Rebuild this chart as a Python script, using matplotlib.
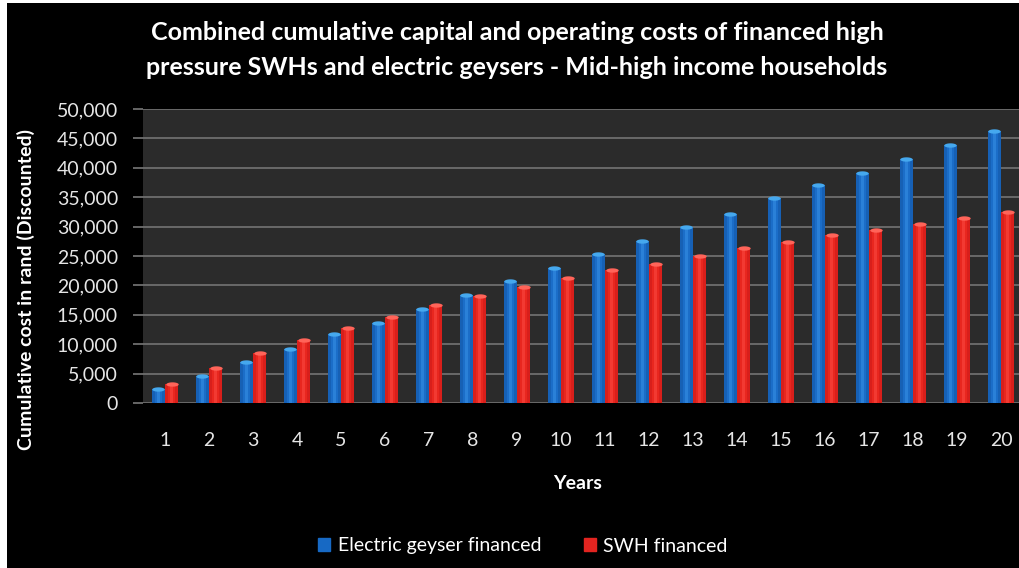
import numpy as np
import matplotlib.pyplot as plt
from matplotlib.patches import Rectangle

years = list(range(1, 21))
electric_geyser = [2300, 4600, 7000, 9150, 11650, 13650, 16000, 18300, 20700, 23000,
                   25300, 27600, 30000, 32200, 34800, 37000, 39100, 41500, 43800, 46200]
swh = [3150, 5900, 8500, 10700, 12800, 14700, 16700, 18200, 19800, 21200,
       22600, 23700, 25000, 26300, 27400, 28500, 29500, 30500, 31500, 32500]

plt.rcParams['font.family'] = ['Lato', 'DejaVu Sans']

W, H = 1019, 568
fig = plt.figure(figsize=(W / 100, H / 100), dpi=100, facecolor='white')
# black canvas with thin white margin at left/top
fig.patches.append(Rectangle((7 / W, 0), 1 - 7 / W, 1 - 3 / H, transform=fig.transFigure,
                             facecolor='black', edgecolor='none', zorder=-10))

ax = fig.add_axes([143 / W, 1 - 403 / H, (W - 143) / W, (403 - 109) / H])
ax.set_zorder(1)
ax.set_facecolor('#2b2b2b')

x = np.array(years)
off = 0.148
bw = 0.28
blue, red = '#1769c4', '#e32420'
ax.bar(x - off, electric_geyser, bw, color='#1660b5', zorder=3)
ax.bar(x + off, swh, bw, color='#d81f1b', zorder=3)
# lighter centre stripes for a rounded look
ax.bar(x - off, electric_geyser, bw * 0.6, color='#1b6dc8', zorder=4)
ax.bar(x + off, swh, bw * 0.6, color='#e8271f', zorder=4)
ax.bar(x - off, electric_geyser, bw * 0.25, color='#2a80d8', zorder=4)
ax.bar(x + off, swh, bw * 0.25, color='#f23a32', zorder=4)

# elliptical caps on the bar tops
t = np.linspace(0, 2 * np.pi, 40)
cap = np.column_stack([np.cos(t), 0.35 * np.sin(t)])
ax.scatter(x - off, electric_geyser, s=80, marker=cap, color='#45a8ee', zorder=5, linewidths=0)
ax.scatter(x + off, swh, s=80, marker=cap, color='#ff6459', zorder=5, linewidths=0)

ax.set_xlim(0.5, 0.5 + (W - 143) / 44.0)
ax.set_ylim(0, 50000)
ax.set_yticks(range(0, 50001, 5000))
ax.set_yticklabels([f'{v:,}' for v in range(0, 50001, 5000)])
ax.set_xticks(x)
ax.set_xticklabels([str(y) for y in years])
ax.yaxis.grid(True, color='#6e6e6e', linewidth=1.3, zorder=1)
ax.set_axisbelow(True)
for s in ax.spines.values():
    s.set_visible(False)
ax.tick_params(axis='y', length=7, color='#6e6e6e', width=1.3, pad=11,
               labelsize=14, labelcolor='#e6e6e6')
ax.tick_params(axis='x', length=0, pad=21, labelsize=14, labelcolor='#e6e6e6')

ax.set_xlabel('Years', color='white', fontsize=14, fontweight='bold')
ax.xaxis.set_label_coords((578 - 143) / (W - 143), -(475 - 403) / (403 - 109))
ax.set_ylabel('Cumulative cost in rand (Discounted)', color='white', fontsize=14,
              fontweight='bold')
ax.yaxis.set_label_coords(-(143 - 35) / (W - 143), (403 - 290) / (403 - 109))

fig.text(517 / W, 1 - 50 / H,
         'Combined cumulative capital and operating costs of financed high\n'
         'pressure SWHs and electric geysers - Mid-high income households',
         ha='center', va='center', color='white', fontsize=18, fontweight='bold',
         linespacing=1.6)

# legend along the bottom
handles = [Rectangle((0, 0), 1, 1, color=blue), Rectangle((0, 0), 1, 1, color=red)]
leg = fig.legend(handles, ['Electric geyser financed', 'SWH financed'],
                 loc='center', bbox_to_anchor=(523 / W, 1 - 546 / H), ncol=2,
                 frameon=False, fontsize=14, labelcolor='white',
                 handlelength=0.6, handleheight=0.6, handletextpad=0.4, columnspacing=2.2)

fig.savefig('out.png', dpi=100, facecolor=fig.get_facecolor())
